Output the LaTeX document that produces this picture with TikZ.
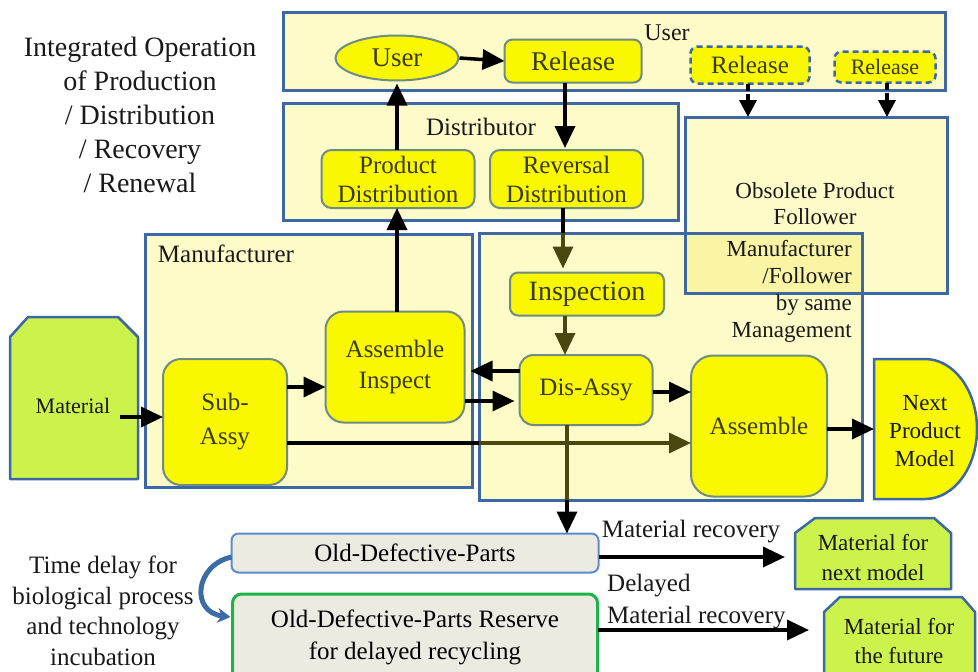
\documentclass[tikz,border=0pt]{standalone}
\usepackage{fontspec}
\setmainfont{Liberation Serif}
\usetikzlibrary{arrows.meta,shapes.geometric,calc}

\definecolor{cblue}{RGB}{62,104,164}
\definecolor{cfill}{RGB}{253,251,200}
\definecolor{coverlap}{RGB}{249,245,165}
\definecolor{yel}{RGB}{250,248,0}
\definecolor{yedge}{RGB}{112,140,128}
\definecolor{ytext}{RGB}{58,58,12}
\definecolor{olivearr}{RGB}{72,72,16}
\definecolor{mgreen}{RGB}{204,242,76}
\definecolor{pgrey}{RGB}{236,235,226}
\definecolor{pblue}{RGB}{92,140,205}
\definecolor{pgreen}{RGB}{30,178,74}
\definecolor{curveblue}{RGB}{60,108,168}

\tikzset{
  fs/.style={font=\fontsize{#1}{#1}\selectfont},
  cont/.style={draw=cblue, line width=3pt, fill=cfill, outer sep=0pt, inner sep=0pt},
  cborder/.style={draw=cblue, line width=3pt},
  ybox/.style={draw=yedge, line width=2pt, fill=yel, text=ytext, rounded corners=#1,
    align=center, inner sep=0pt, outer sep=0pt},
  ybox/.default=10pt,
  dbox/.style={draw=cblue, line width=2.5pt, dash pattern=on 6pt off 4pt, fill=yel,
    text=ytext, rounded corners=7pt, inner sep=0pt, outer sep=0pt},
  lab/.style={align=center, inner sep=0pt, text=black!90},
  arr/.style={-{Triangle[length=22pt,width=20pt]}, line width=3.5pt, black},
  oarr/.style={-{Triangle[length=22pt,width=20pt]}, line width=3.5pt, olivearr},
  oline/.style={line width=3.5pt, olivearr},
  bline/.style={line width=3.5pt, black},
  darr/.style={-{Triangle[length=17pt,width=17pt]}, line width=3.5pt, black,
    dash pattern=on 7pt off 3pt},
  curvearr/.style={-{Stealth[length=13pt,width=15pt]}, line width=5pt, curveblue},
  greenshape/.style={fill=mgreen, draw=cblue, line width=2.5pt, line join=round},
}

\begin{document}
\begin{tikzpicture}[x=1pt,y=-1pt]
\useasboundingbox (0,0) rectangle (978,672);

% containers
\node[cont, minimum width=662pt, minimum height=78pt] (userbox) at (614,51) {};
\node[cont, minimum width=395pt, minimum height=117pt] (distbox) at (480.5,161.5) {};
\node[cont, minimum width=327pt, minimum height=253pt] (mfgbox) at (308.5,360.5) {};
\node[cont, minimum width=383pt, minimum height=267pt] (rbox) at (670.5,366.5) {};
\node[cont, minimum width=262pt, minimum height=176pt] (obsbox) at (816,205) {};
\fill[coverlap] (obsbox.west |- rbox.north) rectangle (rbox.east |- obsbox.south);
\draw[cborder] (rbox.north west) rectangle (rbox.south east);
\draw[cborder] (obsbox.north west) rectangle (obsbox.south east);

% container labels and free texts
\node[lab, font=\fontsize{28}{34}\selectfont] (title) at (140,115)
  {Integrated Operation\\of Production\\/ Distribution\\/ Recovery\\/ Renewal};
\node[lab, fs=24] (userlbl) at (667,33) {User};
\node[lab, fs=25] (distlbl) at (481,127) {Distributor};
\node[lab, fs=25] (mfglbl) at (226,254) {Manufacturer};
\node[lab, font=\fontsize{23}{26}\selectfont] (obslbl) at (815,204) {Obsolete Product\\Follower};
\node[lab, align=right, anchor=east, font=\fontsize{23}{27}\selectfont] (mgmtlbl) at (852,291)
  {Manufacturer\\/Follower\\by same\\Management};

% user level
\node[draw=yedge, line width=2pt, fill=yel, text=ytext, ellipse, minimum width=123pt,
  minimum height=45pt, inner sep=0pt, fs=27] (user) at (397,58) {User};
\node[ybox=8pt, minimum width=137pt, minimum height=43pt, fs=27] (release) at (573,61) {Release};
\node[dbox, minimum width=119pt, minimum height=37pt, fs=25] (rel1) at (750,65) {Release};
\node[dbox, minimum width=101pt, minimum height=31pt, fs=22] (rel2) at (885,67) {Release};

% distributor level
\node[ybox, minimum width=153pt, minimum height=58pt, font=\fontsize{25}{29}\selectfont]
  (pdist) at (398,179) {Product\\Distribution};
\node[ybox, minimum width=153pt, minimum height=58pt, font=\fontsize{25}{29}\selectfont]
  (rdist) at (566.5,179) {Reversal\\Distribution};

% manufacturer level
\node[ybox=18pt, minimum width=124pt, minimum height=126pt, font=\fontsize{25}{34}\selectfont]
  (subassy) at (225,422) {Sub-\\Assy};
\node[ybox=18pt, minimum width=139pt, minimum height=111pt, font=\fontsize{25}{31}\selectfont]
  (ainsp) at (395,367) {Assemble\\Inspect};
\node[ybox=8pt, minimum width=154pt, minimum height=43pt, fs=28] (insp) at (587,294) {Inspection};
\node[ybox=14pt, minimum width=133pt, minimum height=70pt, fs=25] (disassy) at (586,390) {Dis-Assy};
\node[ybox=22pt, minimum width=136pt, minimum height=141pt, fs=25] (assem) at (759,426) {Assemble};

% material source
\draw[greenshape] (10,337) -- (28,317) -- (118,317) -- (138,337) -- (138,479) -- (10,479) -- cycle;
\node[lab, fs=22] (material) at (73,406) {Material};
\coordinate (matout) at (120,417);

% next product model
\draw[fill=yel, draw=cblue, line width=2.5pt] (874,359) -- (925,359)
  arc[start angle=-90, end angle=90, x radius=52, y radius=70] -- (874,499) -- cycle;
\node[lab, font=\fontsize{23}{28}\selectfont] (npm) at (925,431) {Next\\Product\\Model};
\coordinate (npmin) at (874,429);

% recovery level
\node[draw=pblue, line width=2pt, fill=pgrey, rounded corners=7pt, minimum width=367pt,
  minimum height=39pt, inner sep=0pt, outer sep=0pt, fs=25] (odp) at (415,553) {Old-Defective-Parts};
\node[draw=pgreen, line width=3pt, fill=pgrey, rounded corners=9pt, minimum width=365pt,
  minimum height=86pt, inner sep=0pt, outer sep=0pt, align=center,
  font=\fontsize{25}{32}\selectfont] (odpr) at (415,637)
  {Old-Defective-Parts Reserve\\for delayed recycling};

\draw[greenshape] (795,533) -- (815,518) -- (934,518) -- (951,533) -- (951,589) -- (795,589) -- cycle;
\node[lab, font=\fontsize{23}{30}\selectfont] (mnext) at (873,558) {Material for\\next model};
\coordinate (mnextin) at (795,557);
\draw[greenshape] (824,612) -- (840,597) -- (962,597) -- (975,612) -- (975,690) -- (824,690) -- cycle;
\node[lab, font=\fontsize{23}{29}\selectfont] (mfut) at (899,641) {Material for\\the future};
\coordinate (mfutin) at (824,630);

\node[lab, fs=25] (mrec) at (691,532) {Material recovery};
\node[lab, align=left, anchor=west, font=\fontsize{25}{32}\selectfont] (dmrec) at (607,602)
  {Delayed\\Material recovery};
\node[lab, font=\fontsize{25}{30.5}\selectfont] (tdelay) at (103,611)
  {Time delay for\\biological process\\and technology\\incubation};

% connectors
\coordinate (xv) at (565,0);
\draw[arr] (user.east) -- (release.west);
\draw[arr] (release.south -| xv) -- ($(rdist.north -| xv)+(0,-2)$);
\draw[darr] (rel1.south -| 748,0) -- (obsbox.north -| 748,0);
\draw[darr] (rel2.south -| 887,0) -- (obsbox.north -| 887,0);
\draw[arr] (pdist.north -| user.south) -- ($(user.south)+(0,2)$);
\draw[arr] (ainsp.north -| 397,0) -- ($(pdist.south -| 397,0)$);
\draw[bline] (rdist.south -| 563,0) -- (rbox.north -| 563,0);
\draw[oarr] (rbox.north -| 563,0) -- ($(insp.north -| 563,0)+(0,-4)$);
\draw[oarr] (insp.south -| xv) -- (disassy.north -| xv);
\draw[arr] (matout) -- (subassy.west |- matout);
\draw[arr] (subassy.east |- 0,387) -- (ainsp.west |- 0,387);
\draw[arr, shorten >=6pt] (disassy.west |- 0,371) -- (ainsp.east |- 0,371);
\draw[arr, shorten >=5pt] (ainsp.east |- 0,401) -- (disassy.west |- 0,401);
\draw[bline] (subassy.east |- 0,443) -- (rbox.west |- 0,443);
\draw[oarr] (rbox.west |- 0,443) -- (assem.west |- 0,443);
\draw[arr] (disassy.east |- 0,392) -- (assem.west |- 0,392);
\draw[arr] (assem.east |- npmin) -- (npmin);
\draw[oline] (disassy.south -| 567,0) -- (rbox.south -| 567,0);
\draw[arr] (rbox.south -| 567,0) -- (odp.north -| 567,0);
\draw[arr, shorten >=10pt] (odp.east |- mnextin) -- (mnextin);
\draw[arr, shorten >=15pt] (odpr.east |- mfutin) -- (mfutin);
\draw[curvearr] ($(odp.west)+(0,4)$) .. controls (195,565) and (190,612) .. ($(odpr.west)+(-2,-20)$);
\end{tikzpicture}
\end{document}
